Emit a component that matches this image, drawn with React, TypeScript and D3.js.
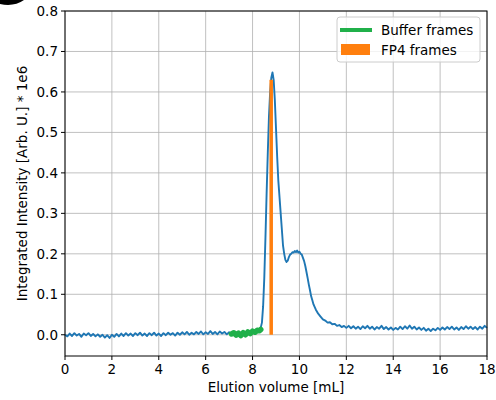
import React from "react";
import * as d3 from "d3";

// elution trace
const volume = [
  0.0, 0.1, 0.2, 0.3, 0.4, 0.5, 0.6, 0.7, 0.8, 0.9,
  1.0, 1.1, 1.2, 1.3, 1.4, 1.5, 1.6, 1.7, 1.8, 1.9,
  2.0, 2.1, 2.2, 2.3, 2.4, 2.5, 2.6, 2.7, 2.8, 2.9,
  3.0, 3.1, 3.2, 3.3, 3.4, 3.5, 3.6, 3.7, 3.8, 3.9,
  4.0, 4.1, 4.2, 4.3, 4.4, 4.5, 4.6, 4.7, 4.8, 4.9,
  5.0, 5.1, 5.2, 5.3, 5.4, 5.5, 5.6, 5.7, 5.8, 5.9,
  6.0, 6.1, 6.2, 6.3, 6.4, 6.5, 6.6, 6.7, 6.8, 6.9,
  7.0, 7.1, 7.2, 7.3, 7.4, 7.5, 7.6, 7.7, 7.8, 7.9,
  8.0, 8.1, 8.2, 8.3, 8.35, 8.4, 8.45, 8.5, 8.55, 8.6, 8.65, 8.7, 8.75, 8.8, 8.85, 8.9, 8.95,
  9.0, 9.05, 9.1, 9.15, 9.2, 9.25, 9.3, 9.35, 9.4, 9.45, 9.5, 9.55, 9.6, 9.65, 9.7, 9.75, 9.8, 9.85, 9.9, 9.95,
  10.0, 10.05, 10.1, 10.15, 10.2, 10.25, 10.3, 10.35, 10.4, 10.45, 10.5, 10.55, 10.6, 10.7, 10.8, 10.9,
  11.0, 11.1, 11.2, 11.3, 11.4, 11.5, 11.6, 11.7, 11.8, 11.9,
  12.0, 12.1, 12.2, 12.3, 12.4, 12.5, 12.6, 12.7, 12.8, 12.9,
  13.0, 13.1, 13.2, 13.3, 13.4, 13.5, 13.6, 13.7, 13.8, 13.9,
  14.0, 14.1, 14.2, 14.3, 14.4, 14.5, 14.6, 14.7, 14.8, 14.9,
  15.0, 15.1, 15.2, 15.3, 15.4, 15.5, 15.6, 15.7, 15.8, 15.9,
  16.0, 16.1, 16.2, 16.3, 16.4, 16.5, 16.6, 16.7, 16.8, 16.9,
  17.0, 17.1, 17.2, 17.3, 17.4, 17.5, 17.6, 17.7, 17.8, 17.9, 18.0,
];
const intensity = [
  0.0, -0.004, 0.003, -0.003, 0.004, -0.002, 0.002, -0.005, 0.003, -0.001,
  0.004, -0.003, 0.002, -0.004, 0.001, -0.005, 0.0, -0.007, -0.001, -0.008,
  0.0, -0.005, 0.002, -0.004, 0.003, -0.003, 0.004, -0.002, 0.003, -0.003,
  0.004, -0.001, 0.005, -0.002, 0.003, -0.003, 0.004, -0.001, 0.005, -0.002,
  0.003, -0.003, 0.004, -0.001, 0.005, 0.0, 0.004, -0.002, 0.005, 0.0,
  0.006, 0.001, 0.007, 0.0, 0.005, 0.001, 0.007, 0.002, 0.008, 0.001,
  0.006, 0.002, 0.009, 0.002, 0.007, 0.001, 0.008, 0.003, 0.007, 0.001,
  0.006, 0.002, 0.005, 0.0, 0.004, -0.001, 0.005, 0.001, 0.007, 0.002,
  0.009, 0.005, 0.011, 0.012, 0.018, 0.03, 0.07, 0.14, 0.24, 0.35, 0.45, 0.54, 0.6, 0.635, 0.648, 0.63, 0.58,
  0.51, 0.44, 0.38, 0.34, 0.3, 0.26, 0.22, 0.2, 0.185, 0.18, 0.183, 0.192, 0.198, 0.2, 0.204, 0.203, 0.207, 0.204, 0.208, 0.203,
  0.205, 0.2, 0.198, 0.19, 0.182, 0.17, 0.155, 0.14, 0.124, 0.11, 0.095, 0.085, 0.075, 0.062, 0.052, 0.045,
  0.038, 0.035, 0.03, 0.031, 0.026, 0.027, 0.022, 0.024, 0.019, 0.022,
  0.017, 0.022, 0.016, 0.021, 0.015, 0.02, 0.014, 0.021, 0.016, 0.022,
  0.015, 0.02, 0.013, 0.019, 0.015, 0.022, 0.014, 0.019, 0.013, 0.018,
  0.012, 0.017, 0.013, 0.02, 0.014, 0.021, 0.015, 0.023, 0.015, 0.02,
  0.013, 0.018, 0.012, 0.017, 0.01, 0.015, 0.009, 0.015, 0.011, 0.017,
  0.012, 0.018, 0.013, 0.019, 0.014, 0.02, 0.013, 0.018, 0.012, 0.019,
  0.014, 0.021, 0.015, 0.02, 0.014, 0.019, 0.013, 0.02, 0.015, 0.022, 0.017,
];

// buffer frames (green)
const bufferVolume = [7.1, 7.2, 7.3, 7.4, 7.5, 7.6, 7.7, 7.8, 7.9, 8.0, 8.1, 8.2, 8.3, 8.35];
const bufferIntensity = [0.002, 0.005, -0.001, 0.004, -0.002, 0.005, 0.0, 0.007, 0.003, 0.009, 0.006, 0.011, 0.01, 0.013];

// FP4 frames (orange bar)
const fp4Range = [8.72, 8.87];
const fp4Height = 0.63;

const xTicks = [0, 2, 4, 6, 8, 10, 12, 14, 16, 18];
const yTicks = [0.0, 0.1, 0.2, 0.3, 0.4, 0.5, 0.6, 0.7, 0.8];

const W = 496;
const H = 400;
const margin = { top: 11, right: 9, bottom: 44, left: 65 };
const font = "DejaVu Sans, sans-serif";
const fs = 13.5;

export default function App() {
  const x = d3.scaleLinear().domain([0, 18]).range([margin.left, W - margin.right]);
  const y = d3.scaleLinear().domain([-0.0525, 0.8]).range([H - margin.bottom, margin.top]);

  const trace = volume.map((v, i) => [v, intensity[i]] as [number, number]);
  const buffer = bufferVolume.map((v, i) => [v, bufferIntensity[i]] as [number, number]);
  const line = d3
    .line<[number, number]>()
    .x((d) => x(d[0]))
    .y((d) => y(d[1]));

  const x0 = margin.left;
  const x1 = W - margin.right;
  const y0 = margin.top;
  const y1 = H - margin.bottom;

  return (
    <svg
      width={W}
      height={H}
      style={{ position: "absolute", left: 0, top: 0, background: "#fff" }}
      fontFamily={font}
    >
      <rect x={0} y={0} width={W} height={H} fill="#fff" />
      {/* panel letter, only its lower edge is in view */}
      <path d="M0,0 L24,0 Q14,7 0,4 Z" fill="#000" />

      {/* grid */}
      {xTicks.map((t) => (
        <line key={"gx" + t} x1={x(t)} x2={x(t)} y1={y0} y2={y1} stroke="#b0b0b0" strokeWidth={0.8} />
      ))}
      {yTicks.map((t) => (
        <line key={"gy" + t} x1={x0} x2={x1} y1={y(t)} y2={y(t)} stroke="#b0b0b0" strokeWidth={0.8} />
      ))}

      <path d={line(trace) || ""} fill="none" stroke="#1f77b4" strokeWidth={1.9} strokeLinejoin="round" />
      <path
        d={line(buffer) || ""}
        fill="none"
        stroke="#20b04a"
        strokeWidth={5.5}
        strokeLinecap="round"
        strokeLinejoin="round"
      />
      <rect
        x={x(fp4Range[0])}
        width={x(fp4Range[1]) - x(fp4Range[0])}
        y={y(fp4Height)}
        height={y(0) - y(fp4Height)}
        fill="#ff7f0e"
      />

      {/* frame */}
      <rect x={x0} y={y0} width={x1 - x0} height={y1 - y0} fill="none" stroke="#000" strokeWidth={1} />

      {/* x axis */}
      {xTicks.map((t) => (
        <g key={"xt" + t}>
          <line x1={x(t)} x2={x(t)} y1={y1} y2={y1 + 4} stroke="#000" />
          <text x={x(t)} y={y1 + 18} fontSize={fs} textAnchor="middle" fill="#000">
            {t}
          </text>
        </g>
      ))}
      <text x={(x0 + x1) / 2} y={H - 8} fontSize={fs} textAnchor="middle" fill="#000">
        Elution volume [mL]
      </text>

      {/* y axis */}
      {yTicks.map((t) => (
        <g key={"yt" + t}>
          <line x1={x0 - 4} x2={x0} y1={y(t)} y2={y(t)} stroke="#000" />
          <text x={x0 - 7} y={y(t) + 5} fontSize={fs} textAnchor="end" fill="#000">
            {t.toFixed(1)}
          </text>
        </g>
      ))}
      <text
        transform={`translate(27,${(y0 + y1) / 2}) rotate(-90)`}
        fontSize={fs}
        textAnchor="middle"
        fill="#000"
      >
        Integrated Intensity [Arb. U.] * 1e6
      </text>

      {/* legend */}
      <g>
        <rect x={337} y={17} width={143} height={45} rx={3} fill="#fff" fillOpacity={0.8} stroke="#cccccc" />
        <line x1={340} x2={372} y1={30} y2={30} stroke="#20b04a" strokeWidth={4} />
        <text x={381} y={35} fontSize={fs} fill="#000">
          Buffer frames
        </text>
        <rect x={341} y={44} width={29} height={11} fill="#ff7f0e" />
        <text x={381} y={55} fontSize={fs} fill="#000">
          FP4 frames
        </text>
      </g>
    </svg>
  );
}
